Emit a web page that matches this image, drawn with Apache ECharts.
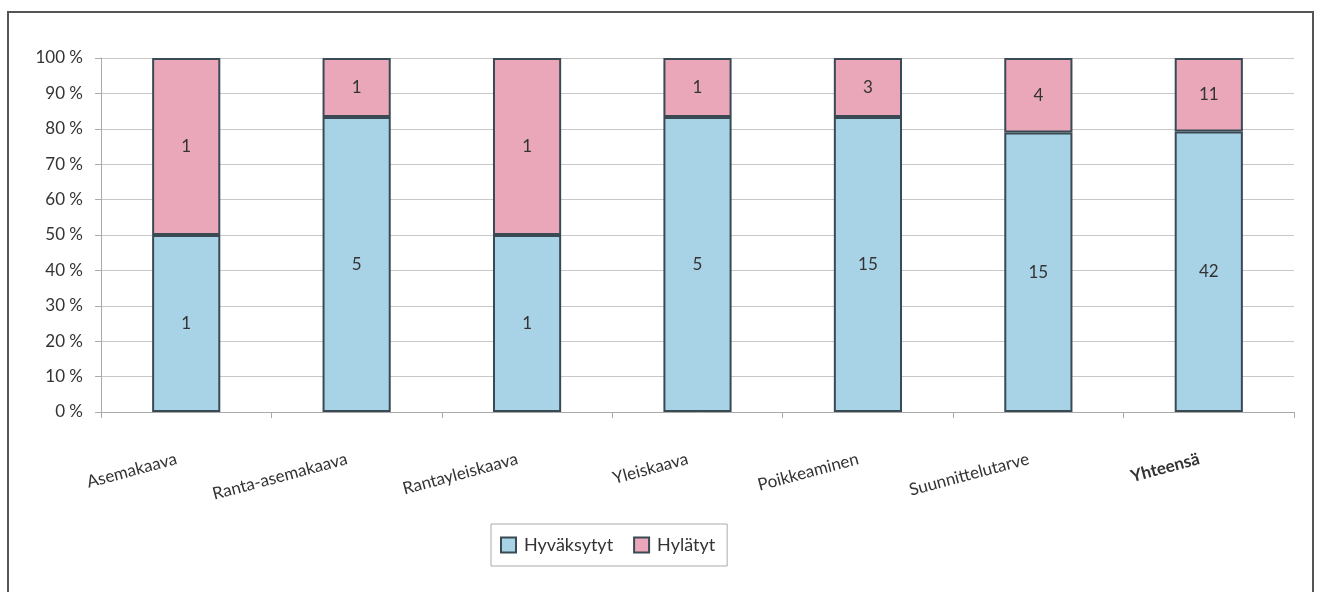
<!DOCTYPE html>
<html><head><meta charset="utf-8">
<script src="https://cdn.jsdelivr.net/npm/echarts@6/dist/echarts.min.js"></script>
<style>
html,body{margin:0;padding:0;background:#fff;}
#frame{position:absolute;left:7px;top:11px;width:1307px;height:600px;border:2px solid #555;box-sizing:border-box;}
#c{position:absolute;left:0;top:0;width:1321px;height:592px;}
</style></head>
<body>
<div id="frame"></div>
<div id="c"></div>
<script>
const categories = ['Asemakaava','Ranta-asemakaava','Rantayleiskaava','Yleiskaava','Poikkeaminen','Suunnittelutarve','Yhteensä'];
const accepted = [1,5,1,5,15,15,42];
const rejected = [1,1,1,1,3,4,11];
const yTicks = [0,10,20,30,40,50,60,70,80,90,100];

const totals = accepted.map((v,i)=>v+rejected[i]);
const accPct = accepted.map((v,i)=>({value: v/totals[i]*100, count: v}));
const rejPct = rejected.map((v,i)=>({value: v/totals[i]*100, count: v}));

const font = 'Lato, "Open Sans", sans-serif';
const chart = echarts.init(document.getElementById('c'), null, {renderer:'canvas'});
chart.setOption({
  animation:false,
  textStyle:{fontFamily:font},
  grid:{left:101, right:27, top:58, bottom:180, containLabel:false},
  legend:{
    bottom:26, left:491, itemGap:20,
    padding:[12,12,12,9],
    borderColor:'#aaa', borderWidth:1,
    itemWidth:15, itemHeight:15,
    textStyle:{fontFamily:font, fontSize:18, color:'#333', padding:[0,0,0,3]},
    data:[{name:'Hyväksytyt', icon:'rect'},{name:'Hylätyt', icon:'rect'}]
  },
  xAxis:{
    type:'category', data:categories,
    axisLine:{show:true, lineStyle:{color:'#aaa', width:1}},
    axisTick:{show:true, length:6, lineStyle:{color:'#aaa'}},
    axisLabel:{rotate:15, margin:44, fontSize:17, color:'#333', fontFamily:font, padding:[0,10,0,0],
      formatter:(v)=> v==='Yhteensä' ? '{b|'+v+'}' : v,
      rich:{b:{fontWeight:'bold', fontSize:17, color:'#333', fontFamily:font}}}
  },
  yAxis:{
    type:'value', min:0, max:100, interval:10,
    axisLine:{show:true, lineStyle:{color:'#aaa'}},
    axisTick:{show:true, length:6, lineStyle:{color:'#aaa'}},
    splitLine:{lineStyle:{color:'#c8c8c8', width:1}},
    axisLabel:{formatter:(v)=> yTicks.includes(v) ? v+' %' : '', fontSize:17, color:'#333', margin:18, fontFamily:font}
  },
  series:[
    {name:'Hyväksytyt', type:'bar', stack:'s', barWidth:'40%', data:accPct,
      itemStyle:{color:'#a8d2e6', borderColor:'#3a4a55', borderWidth:2},
      label:{show:true, position:'inside', formatter:(p)=>p.data.count, fontSize:17, color:'#333', fontFamily:font}},
    {name:'Hylätyt', type:'bar', stack:'s', barWidth:'40%', data:rejPct,
      itemStyle:{color:'#e9a7b9', borderColor:'#3a4a55', borderWidth:2},
      label:{show:true, position:'inside', formatter:(p)=>p.data.count, fontSize:17, color:'#333', fontFamily:font}}
  ]
});
</script>
</body></html>
